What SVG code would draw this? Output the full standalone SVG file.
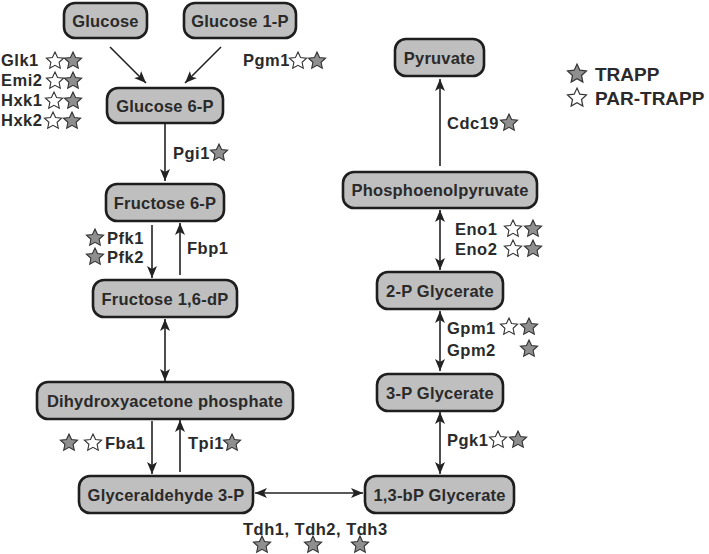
<svg xmlns="http://www.w3.org/2000/svg" xmlns:xlink="http://www.w3.org/1999/xlink" width="709" height="554" viewBox="0 0 709 554">
<style>
.box{fill:#bfbfbf;stroke:#1e1e1e;stroke-width:2.6}
.bt{font-family:"Liberation Sans",Arial,sans-serif;font-weight:bold;font-size:16.5px;fill:#2a2a2a;text-anchor:middle;letter-spacing:0.2px}
.lb{font-family:"Liberation Sans",Arial,sans-serif;font-weight:bold;font-size:16.5px;fill:#2a2a2a;letter-spacing:0.5px}
.lg{font-family:"Liberation Sans",Arial,sans-serif;font-weight:bold;font-size:19px;fill:#2a2a2a}
.ln{stroke:#222;stroke-width:1.6;fill:none}
.gs{fill:#8f8f8f;stroke:#333;stroke-width:1.1}
.ws{fill:#fff;stroke:#333;stroke-width:1.1}
</style>
<defs>
<marker id="ah" viewBox="0 0 12 10" markerUnits="userSpaceOnUse" markerWidth="12" markerHeight="10" refX="12" refY="5" orient="auto-start-reverse">
<path d="M0,0 L12,5 L0,10 L3,5 Z" fill="#222"/>
</marker>
<path id="star" d="M0,-9 L2.55,-3.5 L8.6,-2.8 L4.1,1.3 L5.3,7.3 L0,4.35 L-5.3,7.3 L-4.1,1.3 L-8.6,-2.8 L-2.55,-3.5 Z"/>
</defs>

<g id="connectors">
<line class="ln" x1="110" y1="47" x2="146" y2="83" marker-end="url(#ah)"/>
<line class="ln" x1="221" y1="47" x2="185" y2="83" marker-end="url(#ah)"/>
<line class="ln" x1="165" y1="124" x2="165" y2="181" marker-end="url(#ah)"/>
<line class="ln" x1="152" y1="225" x2="152" y2="278" marker-end="url(#ah)"/>
<line class="ln" x1="180" y1="275" x2="180" y2="223" marker-end="url(#ah)"/>
<line class="ln" x1="165" y1="319" x2="165" y2="381" marker-start="url(#ah)" marker-end="url(#ah)"/>
<line class="ln" x1="152" y1="421" x2="152" y2="474" marker-end="url(#ah)"/>
<line class="ln" x1="180" y1="472" x2="180" y2="420" marker-end="url(#ah)"/>
<line class="ln" x1="255" y1="493" x2="363" y2="493" marker-start="url(#ah)" marker-end="url(#ah)"/>
<line class="ln" x1="440" y1="474" x2="440" y2="412" marker-start="url(#ah)" marker-end="url(#ah)"/>
<line class="ln" x1="440" y1="371" x2="440" y2="311" marker-start="url(#ah)" marker-end="url(#ah)"/>
<line class="ln" x1="440" y1="270" x2="440" y2="210" marker-start="url(#ah)" marker-end="url(#ah)"/>
<line class="ln" x1="440" y1="166" x2="440" y2="79" marker-end="url(#ah)"/>
</g>

<g id="glucose"><rect class="box" x="64" y="3" width="83" height="35" rx="11"/><text class="bt" x="105.5" y="26.5">Glucose</text></g>
<g id="glucose1p"><rect class="box" x="184" y="3" width="112" height="35" rx="11"/><text class="bt" x="240" y="26.5">Glucose 1-P</text></g>
<g id="glucose6p"><rect class="box" x="107" y="88" width="116" height="35" rx="11"/><text class="bt" x="165" y="111.5">Glucose 6-P</text></g>
<g id="fructose6p"><rect class="box" x="106" y="184" width="118" height="37" rx="11"/><text class="bt" x="165" y="208.5">Fructose 6-P</text></g>
<g id="fructose16dp"><rect class="box" x="93" y="280" width="144" height="37" rx="11"/><text class="bt" x="165" y="304.5">Fructose 1,6-dP</text></g>
<g id="dhap"><rect class="box" x="37" y="382" width="256" height="37" rx="11"/><text class="bt" x="165" y="406.5">Dihydroxyacetone phosphate</text></g>
<g id="g3p"><rect class="box" x="79" y="476" width="174" height="37" rx="11"/><text class="bt" x="166" y="500.5">Glyceraldehyde 3-P</text></g>
<g id="pyruvate"><rect class="box" x="395" y="39" width="89" height="37" rx="11"/><text class="bt" x="439.5" y="63.5">Pyruvate</text></g>
<g id="pep"><rect class="box" x="343" y="172" width="194" height="36" rx="11"/><text class="bt" x="440" y="196">Phosphoenolpyruvate</text></g>
<g id="pg2"><rect class="box" x="377" y="272" width="126" height="37" rx="11"/><text class="bt" x="440" y="296.5">2-P Glycerate</text></g>
<g id="pg3"><rect class="box" x="377" y="374" width="126" height="37" rx="11"/><text class="bt" x="440" y="398.5">3-P Glycerate</text></g>
<g id="bpg13"><rect class="box" x="365" y="476" width="149" height="37" rx="11"/><text class="bt" x="439.5" y="500.5">1,3-bP Glycerate</text></g>

<g id="enzymes">
<text class="lb" x="1" y="66">Glk1</text>
<text class="lb" x="1" y="86">Emi2</text>
<text class="lb" x="1" y="106">Hxk1</text>
<text class="lb" x="1" y="126">Hxk2</text>
<use href="#star" class="ws" x="55" y="61"/><use href="#star" class="gs" x="73" y="61"/>
<use href="#star" class="ws" x="55" y="81"/><use href="#star" class="gs" x="73" y="81"/>
<use href="#star" class="ws" x="54" y="101"/><use href="#star" class="gs" x="73" y="101"/>
<use href="#star" class="ws" x="53" y="121"/><use href="#star" class="gs" x="72" y="121"/>

<text class="lb" x="243" y="66">Pgm1</text>
<use href="#star" class="ws" x="298" y="61"/><use href="#star" class="gs" x="317" y="61"/>

<text class="lb" x="173" y="159">Pgi1</text>
<use href="#star" class="gs" x="219" y="153"/>

<text class="lb" x="107" y="244">Pfk1</text>
<text class="lb" x="107" y="263">Pfk2</text>
<use href="#star" class="gs" x="95" y="238"/>
<use href="#star" class="gs" x="95" y="257"/>
<text class="lb" x="187" y="254">Fbp1</text>

<use href="#star" class="gs" x="69" y="443"/><use href="#star" class="ws" x="93" y="443"/>
<text class="lb" x="105" y="449">Fba1</text>
<text class="lb" x="188" y="449">Tpi1</text>
<use href="#star" class="gs" x="232" y="443"/>

<text class="lb" x="243" y="535">Tdh1, Tdh2, Tdh3</text>
<use href="#star" class="gs" x="262" y="545"/>
<use href="#star" class="gs" x="313" y="545"/>
<use href="#star" class="gs" x="360" y="545"/>

<text class="lb" x="447" y="129">Cdc19</text>
<use href="#star" class="gs" x="509" y="123"/>

<text class="lb" x="455" y="235">Eno1</text>
<text class="lb" x="455" y="255">Eno2</text>
<use href="#star" class="ws" x="513" y="229"/><use href="#star" class="gs" x="533" y="229"/>
<use href="#star" class="ws" x="513" y="249"/><use href="#star" class="gs" x="533" y="249"/>

<text class="lb" x="447" y="334">Gpm1</text>
<text class="lb" x="447" y="356">Gpm2</text>
<use href="#star" class="ws" x="509" y="327"/><use href="#star" class="gs" x="529" y="327"/>
<use href="#star" class="gs" x="529" y="349"/>

<text class="lb" x="447" y="446">Pgk1</text>
<use href="#star" class="ws" x="498" y="440"/><use href="#star" class="gs" x="518" y="440"/>
</g>

<g id="legend">
<use href="#star" class="gs" transform="translate(577,74) scale(1.1)"/>
<text class="lg" x="595" y="81">TRAPP</text>
<use href="#star" class="ws" transform="translate(577,98) scale(1.1)"/>
<text class="lg" x="595" y="105">PAR-TRAPP</text>
</g>
</svg>
